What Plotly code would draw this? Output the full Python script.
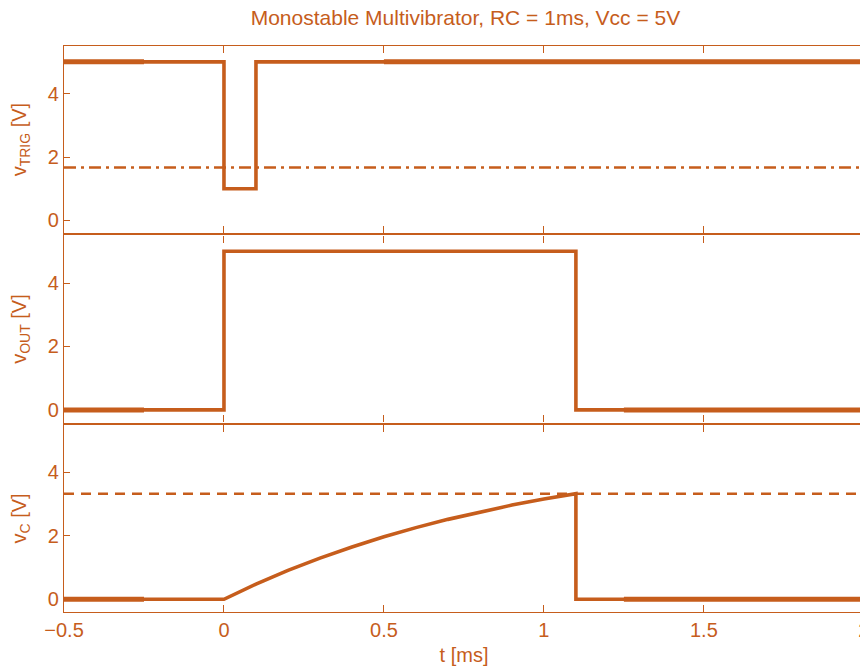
import plotly.graph_objects as go
from plotly.subplots import make_subplots

# ---- data ----
t_trig = [-0.5, 0.0, 0.0, 0.1, 0.1, 2.0]
v_trig = [5, 5, 1, 1, 5, 5]
trig_threshold = 1.67          # 1/3 Vcc

t_out = [-0.5, 0.0, 0.0, 1.1, 1.1, 2.0]
v_out = [0, 0, 5, 5, 0, 0]

t_c = [-0.5, 0.0, 0.1, 0.2, 0.3, 0.4, 0.5, 0.6, 0.7, 0.8, 0.9, 1.0, 1.1, 1.1, 2.0]
v_c = [0, 0, 0.48, 0.91, 1.30, 1.65, 1.97, 2.26, 2.52, 2.75, 2.97, 3.16, 3.33, 0, 0]
c_threshold = 3.33             # 2/3 Vcc

x_ticks = [-0.5, 0, 0.5, 1, 1.5, 2]
x_ticklabels = ["\u22120.5", "0", "0.5", "1", "1.5", "2"]
y_ticks = [0, 2, 4]
x_range = [-0.5, 2.0005]
y_range = [-0.4, 5.5]

# segments rendered slightly heavier in the reference
heavy_trig = [(-0.5, -0.25), (0.5, 2.0)]
heavy_out = [(-0.5, -0.25), (1.25, 2.0)]
heavy_c = [(-0.5, -0.25), (1.25, 2.0)]

C = "#c65d1c"
FONT = "Liberation Sans, Arial, sans-serif"

fig = make_subplots(rows=3, cols=1, shared_xaxes=True, vertical_spacing=0.004)

def main(row, x, y):
    fig.add_trace(go.Scatter(x=x, y=y, mode="lines",
                             line=dict(color=C, width=3.6),
                             hoverinfo="skip", showlegend=False), row=row, col=1)

def heavy(row, segs, x, y):
    for a, b in segs:
        lvl = y[0] if a < 0 else y[-1]
        fig.add_trace(go.Scatter(x=[a, b], y=[lvl, lvl], mode="lines",
                                 line=dict(color=C, width=5),
                                 hoverinfo="skip", showlegend=False), row=row, col=1)

def thresh(row, val, dash):
    fig.add_trace(go.Scatter(x=[x_range[0], 2.0], y=[val, val], mode="lines",
                             line=dict(color=C, width=2.4, dash=dash),
                             hoverinfo="skip", showlegend=False), row=row, col=1)

thresh(1, trig_threshold, "12px,5px,3px,5px")
main(1, t_trig, v_trig)
heavy(1, heavy_trig, t_trig, v_trig)

main(2, t_out, v_out)
heavy(2, heavy_out, t_out, v_out)

thresh(3, c_threshold, "10px,7px")
main(3, t_c, v_c)
heavy(3, heavy_c, t_c, v_c)

ytitles = ["v<sub>TRIG</sub> [V]", "v<sub>OUT</sub> [V]", "v<sub>C</sub> [V]"]
for r in range(1, 4):
    fig.update_yaxes(row=r, col=1, range=y_range, tickvals=y_ticks,
                     ticks="inside", ticklen=6, tickcolor=C, tickwidth=1,
                     showline=True, linecolor=C, linewidth=1.3, mirror=True,
                     showgrid=False, zeroline=False, automargin=False,
                     tickfont=dict(family=FONT, size=20, color=C),
                     title=dict(text=ytitles[r - 1], standoff=15,
                                font=dict(family=FONT, size=20, color=C)))
    fig.update_xaxes(row=r, col=1, range=x_range, tickvals=x_ticks,
                     ticktext=x_ticklabels,
                     ticks="inside", ticklen=7, tickcolor=C, tickwidth=1,
                     showline=True, linecolor=C, linewidth=1.3, mirror="ticks",
                     showgrid=False, zeroline=False, automargin=False,
                     ticklabeloverflow="allow",
                     tickfont=dict(family=FONT, size=20, color=C))
fig.update_xaxes(row=3, col=1, title=dict(text="t [ms]", standoff=7,
                 font=dict(family=FONT, size=20, color=C)))

fig.update_layout(
    width=868, height=670,
    margin=dict(l=56, r=12, t=38, b=66),
    paper_bgcolor="white", plot_bgcolor="white",
    title=dict(text="Monostable Multivibrator, RC = 1ms, Vcc = 5V",
               x=0.527, xanchor="center", y=0.985, yanchor="middle",
               font=dict(family=FONT, size=21, color=C)),
)

fig.write_html("out.html")
